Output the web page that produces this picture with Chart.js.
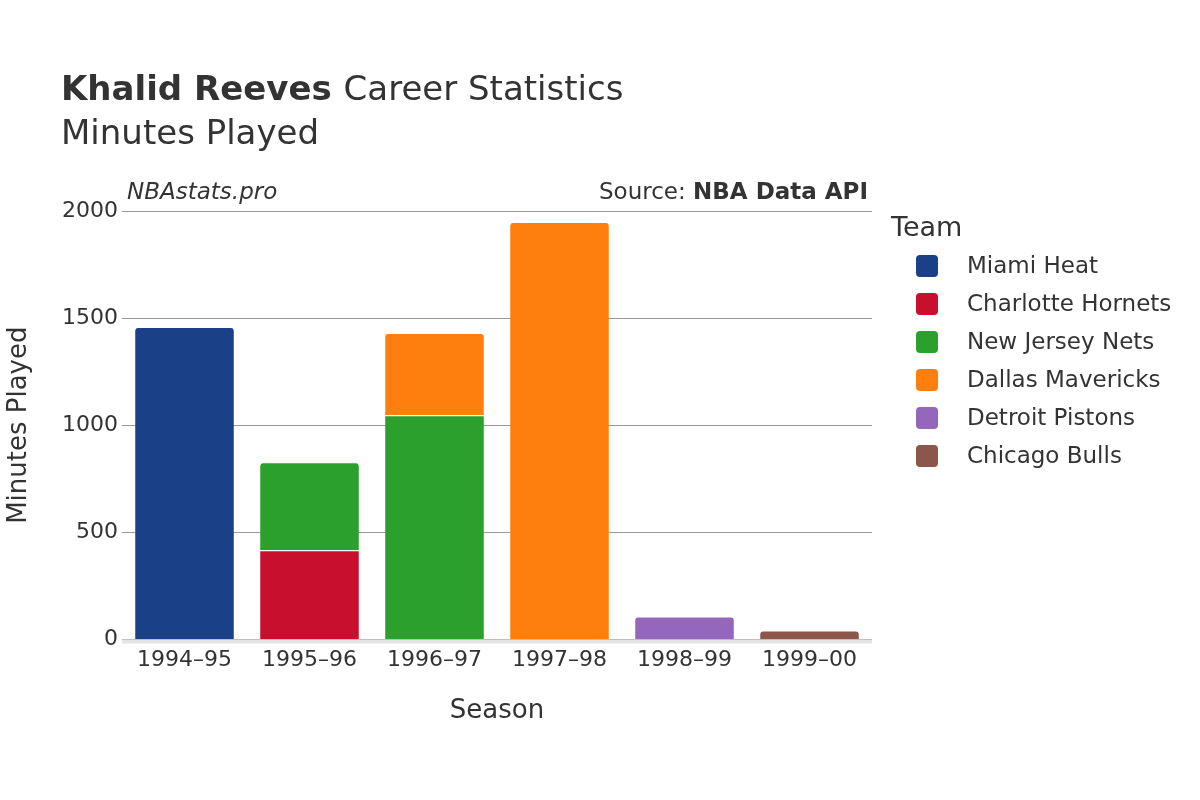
<!DOCTYPE html>
<html>
<head>
<meta charset="utf-8">
<script src="https://cdn.jsdelivr.net/npm/chart.js@4"></script>
<style>
  body { margin: 0; background: #fff; }
  #wrap { width: 1200px; height: 800px; }
</style>
</head>
<body>
<div id="wrap"><canvas id="chart" width="1200" height="800"></canvas></div>
<script>
const seasons = ['1994–95', '1995–96', '1996–97', '1997–98', '1998–99', '1999–00'];
const teams = ['Miami Heat', 'Charlotte Hornets', 'New Jersey Nets', 'Dallas Mavericks', 'Detroit Pistons', 'Chicago Bulls'];
const teamColors = ['#1a4088', '#c8102e', '#2ca02c', '#ff7f0e', '#9467bd', '#8c564b'];
const miamiMin = [1458, null, null, null, null, null];
const charlotteMin = [null, 416, null, null, null, null];
const njMin = [null, 411, 1047, null, null, null];
const dallasMin = [null, null, 383, 1949, null, null];
const detroitMin = [null, null, null, null, 107, null];
const chicagoMin = [null, null, null, null, null, 42];
const yTicks = [0, 500, 1000, 1500, 2000];

const FONT = '"DejaVu Sans", sans-serif';
const seriesData = [miamiMin, charlotteMin, njMin, dallasMin, detroitMin, chicagoMin];

// titles, source line and legend drawn on the canvas
const decorPlugin = {
  id: 'decor',
  afterDraw(chart) {
    const c = chart.ctx;
    const area = chart.chartArea;
    c.save();
    c.fillStyle = '#333';
    c.textBaseline = 'alphabetic';
    c.font = 'bold 34px ' + FONT;
    c.fillText('Khalid Reeves', 61, 100);
    const w = c.measureText('Khalid Reeves ').width;
    c.font = '34px ' + FONT;
    c.fillText('Career Statistics', 61 + w, 100);
    c.fillText('Minutes Played', 61, 144);

    c.font = 'italic 23px ' + FONT;
    c.fillText('NBAstats.pro', 127, 199);
    c.textAlign = 'right';
    c.font = 'bold 23px ' + FONT;
    c.fillText('NBA Data API', area.right - 4, 199);
    const bw = c.measureText('NBA Data API').width;
    c.font = '23px ' + FONT;
    c.fillText('Source: ', area.right - 4 - bw, 199);

    c.textAlign = 'left';
    c.font = '27px ' + FONT;
    c.fillText('Team', 891, 236);
    c.font = '23px ' + FONT;
    teams.forEach((t, i) => {
      const y = 266 + i * 38;
      c.fillStyle = teamColors[i];
      c.beginPath();
      c.roundRect(916, y - 11, 22, 22, 4);
      c.fill();
      c.fillStyle = '#333';
      c.textBaseline = 'middle';
      c.fillText(t, 967, y + 1);
    });
    // zero line
    const y0 = chart.scales.y.getPixelForValue(0);
    c.strokeStyle = '#e5e5e5';
    c.lineWidth = 4;
    c.beginPath();
    c.moveTo(area.left, y0 + 2);
    c.lineTo(area.right, y0 + 2);
    c.stroke();
    c.restore();
  }
};

new Chart(document.getElementById('chart'), {
  type: 'bar',
  data: {
    labels: seasons,
    datasets: teams.map((t, i) => ({
      label: t,
      data: seriesData[i],
      backgroundColor: teamColors[i],
      borderColor: '#fff',
      borderWidth: { top: 1, left: 0, right: 0, bottom: 0 },
      borderRadius: 4,
      borderSkipped: 'bottom',
      barPercentage: 0.79,
      categoryPercentage: 1
    }))
  },
  options: {
    responsive: false,
    animation: false,
    layout: { padding: { left: 0, right: 328, top: 211, bottom: 0 } },
    plugins: { legend: { display: false }, tooltip: { enabled: false } },
    scales: {
      x: {
        stacked: true,
        grid: { display: false },
        border: { display: false },
        ticks: { color: '#333', font: { family: FONT, size: 22 }, padding: 0 },
        title: { display: true, text: 'Season', color: '#333', font: { family: FONT, size: 26 }, padding: { top: 22, bottom: 73 } }
      },
      y: {
        stacked: true,
        min: 0,
        max: 2000,
        afterFit(s) { s.width = 122; },
        afterBuildTicks(s) { s.ticks = yTicks.map(v => ({ value: v })); },
        grid: { color: '#999', lineWidth: 1, drawTicks: false },
        border: { display: false },
        ticks: { color: '#333', font: { family: FONT, size: 22 }, padding: 4, callback: v => String(v) },
        title: { display: true, text: 'Minutes Played', color: '#333', font: { family: FONT, size: 26 }, padding: { bottom: 24 } }
      }
    }
  },
  plugins: [decorPlugin]
});
</script>
</body>
</html>
